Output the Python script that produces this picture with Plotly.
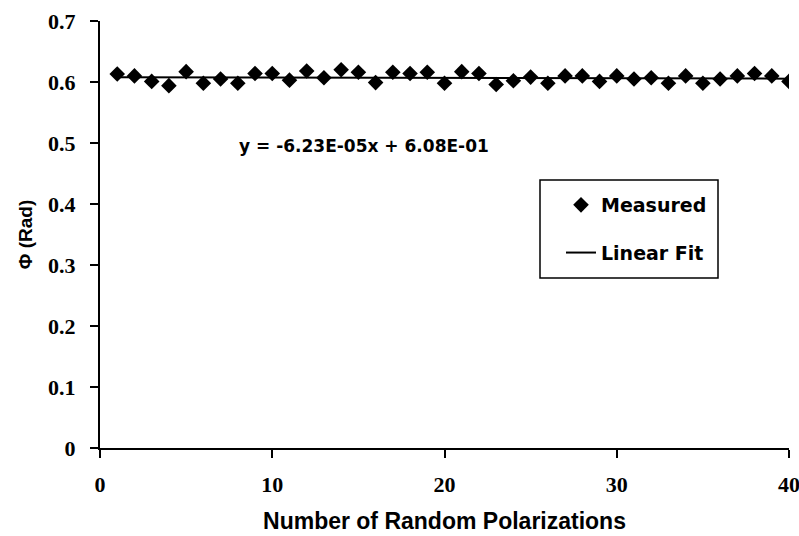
import plotly.graph_objects as go

# Phase measured for each random input polarization
polarization_index = list(range(1, 41))
phi_measured = [
    0.613, 0.610, 0.601, 0.594, 0.617, 0.598, 0.605, 0.598, 0.614, 0.614,
    0.603, 0.618, 0.607, 0.620, 0.616, 0.599, 0.616, 0.614, 0.616, 0.598,
    0.617, 0.614, 0.596, 0.602, 0.608, 0.598, 0.610, 0.610, 0.601, 0.610,
    0.605, 0.607, 0.598, 0.610, 0.598, 0.605, 0.610, 0.614, 0.610, 0.601,
]

# Linear fit coefficients (as printed on the chart)
fit_slope = -6.23e-05
fit_intercept = 6.08e-01
fit_x = [1, 40]
fit_y = [fit_slope * x + fit_intercept for x in fit_x]

x_ticks = [0, 10, 20, 30, 40]
y_ticks = [0, 0.1, 0.2, 0.3, 0.4, 0.5, 0.6, 0.7]
y_tick_labels = ["0", "0.1", "0.2", "0.3", "0.4", "0.5", "0.6", "0.7"]

SANS = "Liberation Sans, Arial, sans-serif"
SERIF = "Liberation Serif, Times New Roman, serif"
WIDE_SANS = "DejaVu Sans, Liberation Sans, sans-serif"

L, R, T, B = 100, 10, 21, 88
W, H = 799 - L - R, 536 - T - B


def px_x(p):
    return (p - L) / W


def px_y(p):
    return (536 - B - p) / H


fig = go.Figure()

fig.add_trace(go.Scatter(
    x=polarization_index, y=phi_measured,
    mode="markers", name="Measured", legendgroup="m",
    marker=dict(symbol="diamond", size=12, color="black",
                line=dict(width=0)),
))

fig.add_trace(go.Scatter(
    x=fit_x, y=fit_y,
    mode="lines", name="Linear Fit", legendgroup="f",
    line=dict(color="black", width=2),
))

# Fit equation
fig.add_annotation(
    x=px_x(237), y=px_y(146), xref="paper", yref="paper",
    xanchor="left", yanchor="middle",
    text=f"<b>y = {fit_slope:.2E}x + {fit_intercept:.2E}</b>",
    showarrow=False,
    font=dict(family=WIDE_SANS, size=17, color="black"),
)

# Frame drawn around the legend entries
fig.add_shape(
    type="rect", xref="paper", yref="paper",
    x0=px_x(540), x1=px_x(718), y0=px_y(278), y1=px_y(180),
    line=dict(color="black", width=1.5), fillcolor="rgba(0,0,0,0)",
)

fig.update_layout(
    width=799, height=536,
    margin=dict(l=L, r=R, t=T, b=B, autoexpand=False),
    paper_bgcolor="white", plot_bgcolor="white",
    showlegend=True,
    legend=dict(
        x=px_x(561), y=px_y(186), xanchor="left", yanchor="top",
        bgcolor="rgba(0,0,0,0)", borderwidth=0,
        font=dict(family=WIDE_SANS, size=19, color="black", weight="bold"),
        traceorder="grouped", tracegroupgap=20, itemwidth=30,
    ),
    xaxis=dict(
        range=[0, 40], tickvals=x_ticks, ticks="outside", ticklen=8,
        tickwidth=1.5, tickcolor="black",
        showline=True, linecolor="black", linewidth=2,
        showgrid=False, zeroline=False, ticklabelstandoff=8,
        ticklabeloverflow="allow",
        tickfont=dict(family=SERIF, size=22, color="black", weight="bold"),
        title=dict(text="<b>Number of Random Polarizations</b>", standoff=16,
                   font=dict(family=SANS, size=23, color="black")),
        automargin=False,
    ),
    yaxis=dict(
        range=[0, 0.7], tickvals=y_ticks, ticktext=y_tick_labels,
        ticks="outside", ticklen=8, tickwidth=1.5, tickcolor="black",
        showline=True, linecolor="black", linewidth=2,
        showgrid=False, zeroline=False, ticklabelstandoff=10,
        tickfont=dict(family=SERIF, size=22, color="black", weight="bold"),
        title=dict(text="<b>Φ (Rad)</b>", standoff=10,
                   font=dict(family=SANS, size=19, color="black")),
        automargin=False,
    ),
)

fig.write_html("out.html")
